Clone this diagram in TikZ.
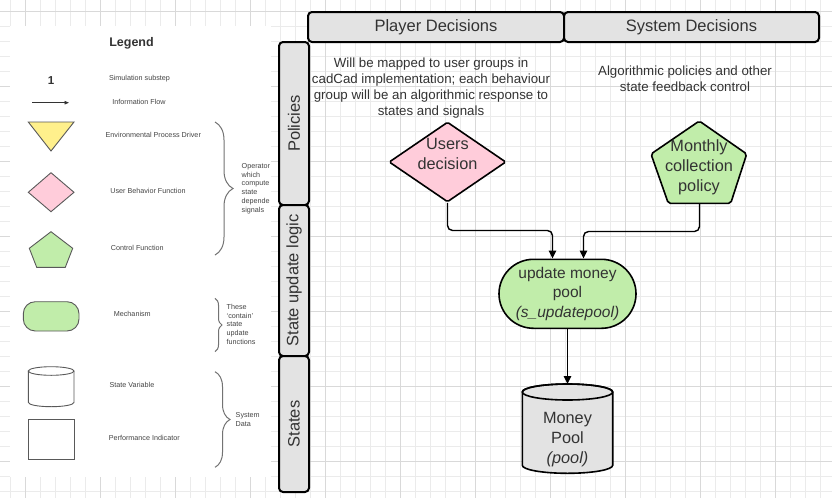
\documentclass[tikz,border=0pt]{standalone}
\usepackage{fontspec}
\setmainfont{Liberation Sans}
\usetikzlibrary{shapes.geometric}
\usetikzlibrary{shapes.misc}
\usetikzlibrary{arrows.meta}
\usetikzlibrary{decorations.pathreplacing}

\definecolor{lanegray}{HTML}{E3E3E3}
\definecolor{userpink}{HTML}{FFCCDA}
\definecolor{ctrlgreen}{HTML}{C1EDAA}
\definecolor{envyellow}{HTML}{FFF08C}
\definecolor{txtgray}{HTML}{333333}
\definecolor{legtxt}{HTML}{444444}
\definecolor{gridminor}{HTML}{EBEBEB}
\definecolor{gridmajor}{HTML}{D9D9D9}

\tikzset{
	lanebox/.style={draw=black, line width=2pt, fill=lanegray, rounded corners=4pt, inner sep=0pt},
	lanetext/.style={text=txtgray, font=\fontsize{16.5}{20}\selectfont},
	desctext/.style={text=txtgray, align=center, font=\fontsize{13.3}{16}\selectfont},
	bigtext/.style={text=txtgray, align=center, font=\fontsize{16.3}{20}\selectfont},
	shapeline/.style={draw=black, line width=1.6pt},
	flow/.style={draw=black, line width=1.4pt, rounded corners=5pt, -{Triangle[length=8pt,width=7.5pt]}},
	legtext/.style={text=legtxt, font=\fontsize{7.2}{8.7}\selectfont},
	legnote/.style={legtext, align=left, anchor=west, inner sep=0pt},
	legshape/.style={draw=black!65, line width=0.9pt},
	legbrace/.style={draw=black!55, line width=1pt, decorate}
}

\begin{document}
\begin{tikzpicture}[x=1pt, y=-1pt]
	\useasboundingbox (0,0) rectangle (832,498);
	\fill[white] (0,0) rectangle (832,498);
	\foreach \gx in {10.7,25.7,...,832} \draw[gridminor, line width=0.8pt] (\gx,0) -- (\gx,498);
	\foreach \gy in {11,26,...,498} \draw[gridminor, line width=0.8pt] (0,\gy) -- (832,\gy);
	\foreach \gx in {25.7,100.7,...,832} \draw[gridmajor, line width=0.9pt] (\gx,0) -- (\gx,498);
	\foreach \gy in {11,86,...,498} \draw[gridmajor, line width=0.9pt] (0,\gy) -- (832,\gy);

	\fill[white] (10,26) rectangle (271,477);
	\begin{scope}
		\clip (10,26) rectangle (269.5,477);
		\node[text=txtgray, font=\bfseries\fontsize{12.5}{14}\selectfont] (legtitle) at (131.5,43.5) {Legend};
		\node[text=txtgray, font=\bfseries\fontsize{11.5}{13}\selectfont] (substepnum) at (51,80.5) {1};
		\node[legtext] (substep) at (139.5,78.5) {Simulation substep};
		\coordinate (flowa) at (32,102.7);
		\coordinate (flowb) at (69,102.7);
		\draw[draw=txtgray, line width=0.9pt, -{Triangle[length=4.5pt,width=3.5pt]}] (flowa) -- (flowb);
		\node[legtext] (flowtxt) at (139,102) {Information Flow};
		\draw[legshape, fill=envyellow] (28.3,122) -- (74,122) -- (51,151) -- cycle;
		\node[legtext] (envtxt) at (153.3,135) {Environmental Process Driver};
		\draw[legshape, fill=userpink] (28.3,192.3) -- (51,172.7) -- (74,192.3) -- (51,211.7) -- cycle;
		\node[legtext] (usertxt) at (148,190.7) {User Behavior Function};
		\draw[legshape, fill=ctrlgreen] (51,231.7) -- (72.7,248.3) -- (65.3,267.3) -- (36.7,267.3) -- (29.3,248.3) -- cycle;
		\node[legtext] (ctrltxt) at (137.3,247.7) {Control Function};
		\draw[legshape, fill=ctrlgreen, rounded corners=12pt] (23.3,301.7) rectangle (79,331);
		\node[legtext] (mechtxt) at (132.3,314.3) {Mechanism};
		\draw[legshape, fill=white] (28.3,371) -- (28.3,402.4) arc[start angle=180, end angle=0, x radius=22.85, y radius=4.3] -- (74,371);
		\draw[legshape] (51.15,371) ellipse[x radius=22.85, y radius=4.3];
		\node[legtext] (statetxt) at (132,385) {State Variable};
		\draw[legshape] (28.3,419.3) rectangle (74,459.3);
		\node[legtext] (perftxt) at (144.3,438.3) {Performance Indicator};
		\draw[legbrace, decoration={brace, amplitude=18pt}] (215,122) -- (215,255);
		\node[legnote] (opnote) at (241.5,188.5) {Operators\\which\\compute\\state\\dependent\\signals};
		\draw[legbrace, decoration={brace, amplitude=7pt}] (215,298.3) -- (215,351.7);
		\node[legnote] (mechnote) at (226.5,324.2) {These\\`contain'\\state\\update\\functions};
		\draw[legbrace, decoration={brace, amplitude=15pt}] (215,371.7) -- (215,467.3);
		\node[legnote] (datanote) at (235.5,419.5) {System\\Data};
	\end{scope}

	\node[lanebox, lanetext, minimum width=256pt, minimum height=30pt] (player) at (436,27) {Player Decisions};
	\node[lanebox, lanetext, minimum width=255pt, minimum height=30pt] (system) at (691.5,27) {System Decisions};
	\node[lanebox, lanetext, rotate=90, minimum width=163pt, minimum height=30pt] (policies) at (294,123.5) {Policies};
	\node[lanebox, lanetext, rotate=90, minimum width=151pt, minimum height=30pt] (logic) at (294,280.5) {State update logic};
	\node[lanebox, lanetext, rotate=90, minimum width=136pt, minimum height=30pt] (states) at (294,424) {States};

	\node[desctext] (playernote) at (431,88.5) {Will be mapped to user groups in\\cadCad implementation; each behaviour\\group will be an algorithmic response to\\states and signals};
	\node[desctext] (systemnote) at (685,78.5) {Algorithmic policies and other\\state feedback control};

	\node[diamond, shapeline, fill=userpink, rounded corners=1.5pt, minimum width=117pt, minimum height=80pt, inner sep=0pt] (users) at (447.5,162) {};
	\node[bigtext] (userstxt) at (447.5,154) {Users\\decision};

	\draw[shapeline, fill=ctrlgreen, rounded corners=2pt] (699.3,121) -- (746.7,154) -- (730.7,203.3) -- (668.3,203.3) -- (651,154) -- cycle;
	\node[bigtext] (policy) at (699,167) {Monthly\\collection\\policy};
	\coordinate (policyb) at (699.5,203.3);

	\node[rounded rectangle, shapeline, fill=ctrlgreen, minimum width=137pt, minimum height=69pt, inner sep=0pt, text=txtgray, align=center, font=\fontsize{15.5}{19.5}\selectfont] (update) at (567.5,293.8) {update money\\pool\\\textit{(s\_updatepool)}};

	\draw[shapeline, fill=lanegray] (522.3,392) -- (522.3,465.3) arc[start angle=180, end angle=0, x radius=45.2, y radius=8] -- (612.7,392) arc[start angle=0, end angle=-180, x radius=45.2, y radius=8] -- cycle;
	\draw[shapeline] (567.5,392) ellipse[x radius=45.2, y radius=8];
	\node[bigtext] (pool) at (567.5,439.5) {Money\\Pool\\\textit{(pool)}};
	\coordinate (pooltop) at (567.5,384);

	\coordinate (joinl) at (552.5,230.5);
	\coordinate (joinr) at (583.5,231.5);
	\draw[flow] (users.south) |- (joinl) -- (update.north -| joinl);
	\draw[flow] (policyb) |- (joinr) -- (update.north -| joinr);
	\draw[flow] (update.south) -- (pooltop);
\end{tikzpicture}
\end{document}
